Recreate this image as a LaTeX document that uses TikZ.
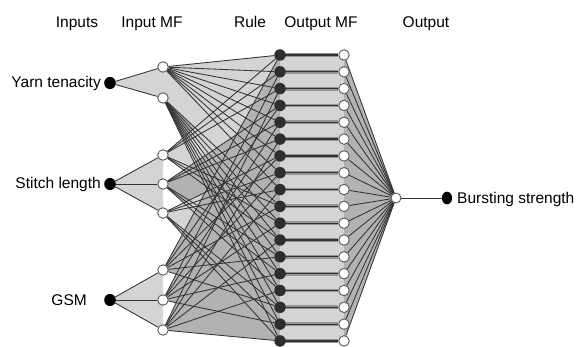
\documentclass[tikz,border=0pt]{standalone}
\usepackage{fontspec}
\setmainfont{Liberation Sans}
\usetikzlibrary{shapes.geometric}
\pgfdeclarelayer{fills}
\pgfdeclarelayer{lines}
\pgfsetlayers{fills,lines,main}
\definecolor{lightfill}{HTML}{D4D4D4}
\definecolor{medfill}{HTML}{B2B2B2}
\definecolor{edgecol}{HTML}{333333}
\definecolor{rulecol}{HTML}{2E2E2E}
\begin{document}
\begin{tikzpicture}[x=1pt,y=-1pt,
  innode/.style={ellipse,fill=black,minimum size=0pt,inner xsep=4.1pt,inner ysep=4.3pt},
  mfnode/.style={circle,draw=black!65,fill=white,line width=0.9pt,minimum size=10.5pt,inner sep=0pt},
  rulenode/.style={circle,fill=rulecol,minimum size=11.5pt,inner sep=0pt},
  lbl/.style={font=\fontsize{15.5}{18}\selectfont,inner sep=0pt},
  conn/.style={draw=edgecol,line width=0.85pt},
  lightfan/.style={fill=lightfill},
  medfan/.style={fill=medfill}]
\useasboundingbox (0,0) rectangle (579,347);
% titles
\node[lbl,anchor=base] (tin) at (77,28) {Inputs};
\node[lbl,anchor=base] (tmf) at (152,28) {Input MF};
\node[lbl,anchor=base] (trule) at (250,28) {Rule};
\node[lbl,anchor=base] (tomf) at (321,28) {Output MF};
\node[lbl,anchor=base] (tout) at (426,28) {Output};
% inputs
\node[innode] (in1) at (110,83) {};
\node[innode] (in2) at (110,184) {};
\node[innode] (in3) at (110,300) {};
\node[lbl,anchor=east] (l1) at (101,83) {Yarn tenacity};
\node[lbl,anchor=east] (l2) at (101,184) {Stitch length};
\node[lbl,anchor=east] (l3) at (87,300) {GSM};
% input MFs
\node[mfnode] (m1) at (163,67) {};
\node[mfnode] (m2) at (163,98) {};
\node[mfnode] (m3) at (163,155) {};
\node[mfnode] (m4) at (163,184) {};
\node[mfnode] (m5) at (163,213) {};
\node[mfnode] (m6) at (163,270) {};
\node[mfnode] (m7) at (163,300) {};
\node[mfnode] (m8) at (163,330) {};
% rules and output MFs
\foreach \i in {1,...,18}{
  \pgfmathsetmacro\ry{55+16.82*(\i-1)}
  \node[rulenode] (r\i) at (280,\ry) {};
  \node[mfnode] (o\i) at (344,\ry) {};
}
\node[mfnode,minimum size=10pt] (agg) at (396,198) {};
\node[innode,inner xsep=3.6pt,inner ysep=4.5pt] (out) at (447,198) {};
\node[lbl,anchor=west] (lout) at (457,199) {Bursting strength};
% fills
\begin{pgfonlayer}{fills}
  \fill[lightfan] (in1.center) -- (m1.center) -- (m2.center) -- cycle;
  \fill[lightfan] (in2.center) -- (m3.center) -- (m5.center) -- cycle;
  \fill[lightfan] (in3.center) -- (m6.center) -- (m8.center) -- cycle;
  \fill[lightfan] (m1.center) -- (r1.center) -- (r10.center) -- (m2.center) -- cycle;
  \fill[medfan] (m2.center) -- (r10.center) -- (r18.center) -- cycle;
  \fill[lightfan] (m3.center) -- (r1.center) -- (r12.center) -- cycle;
  \fill[medfan] (m4.center) -- (r4.center) -- (r15.center) -- cycle;
  \fill[lightfan] (m5.center) -- (r7.center) -- (r18.center) -- cycle;
  \fill[medfan] (m6.center) -- (r1.center) -- (r16.center) -- cycle;
  \fill[medfan] (m7.center) -- (r2.center) -- (r17.center) -- cycle;
  \fill[medfan] (m8.center) -- (r3.center) -- (r18.center) -- cycle;
  \fill[lightfan] (r1.center) rectangle (o18.center);
  \fill[medfan] (agg.center) -- (o1.center) -- (o18.center) -- cycle;
\end{pgfonlayer}
% connectors
\begin{pgfonlayer}{lines}
  \foreach \a/\b in {in1/m1,in1/m2,in2/m3,in2/m4,in2/m5,in3/m6,in3/m7,in3/m8}
    \draw[conn] (\a) -- (\b);
  \foreach \a in {1,2}{
    \foreach \b in {1,2,3}{
      \foreach \c in {1,2,3}{
        \pgfmathtruncatemacro\r{(\a-1)*9+(\b-1)*3+\c}
        \pgfmathtruncatemacro\mb{2+\b}
        \pgfmathtruncatemacro\mc{5+\c}
        \draw[conn] (m\a) -- (r\r);
        \draw[conn] (m\mb) -- (r\r);
        \draw[conn] (m\mc) -- (r\r);
      }}}
  \foreach \i in {1,...,18}{
    \draw[draw=black!42,line width=3.8pt] (r\i.center) -- (o\i);
    \draw[draw=edgecol,line width=1.2pt] (r\i.center) -- (o\i);
    \draw[conn] (o\i) -- (agg);
  }
  \draw[conn] (agg) -- (out);
\end{pgfonlayer}
\end{tikzpicture}
\end{document}
